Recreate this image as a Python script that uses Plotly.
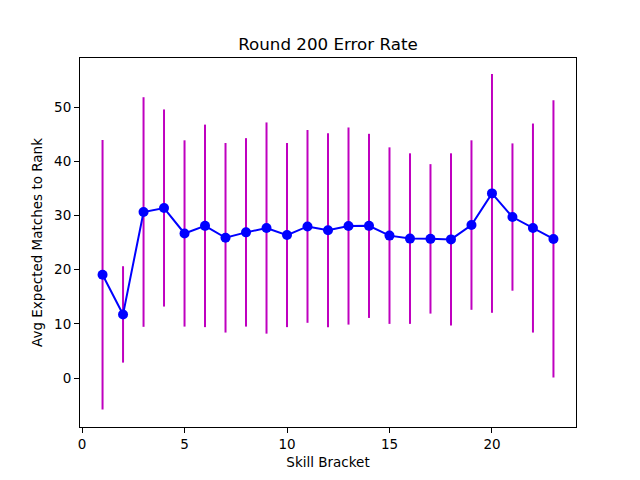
import plotly.graph_objects as go

brackets = list(range(1, 24))
avg_matches = [19.07, 11.75, 30.66, 31.4, 26.7, 28.1, 25.9, 26.9, 27.7, 26.4, 28.0, 27.3,
               28.07, 28.1, 26.3, 25.75, 25.7, 25.6, 28.25, 34.1, 29.73, 27.7, 25.68]
err = [24.9, 8.9, 21.2, 18.2, 17.2, 18.7, 17.5, 17.4, 19.5, 17.0, 17.8, 17.9,
       18.2, 17.0, 16.3, 15.75, 13.8, 15.9, 15.65, 22.05, 13.6, 19.3, 25.6]

font = "DejaVu Sans, Liberation Sans, sans-serif"

fig = go.Figure()
fig.add_trace(go.Scatter(
    x=brackets, y=avg_matches, mode="markers",
    marker=dict(size=1, opacity=0),
    error_y=dict(type="data", array=err, visible=True, color="#bf00bf", thickness=2, width=0),
    showlegend=False, hoverinfo="skip"))
fig.add_trace(go.Scatter(
    x=brackets, y=avg_matches, mode="lines+markers",
    line=dict(color="#0000ff", width=2),
    marker=dict(color="#0000ff", size=10),
    showlegend=False))

axis_common = dict(
    showgrid=False, zeroline=False, showline=True, linecolor="black", linewidth=1,
    mirror=True, ticks="outside", ticklen=5, tickwidth=1, tickcolor="black",
    tickfont=dict(family=font, size=13.5, color="black"),
)
fig.update_xaxes(range=[-0.1, 24.1], tickvals=[0, 5, 10, 15, 20],
                 title=dict(text="Skill Bracket", font=dict(family=font, size=13.5, color="black"), standoff=6),
                 **axis_common)
fig.update_yaxes(range=[-9.04, 59.1], tickvals=[0, 10, 20, 30, 40, 50],
                 title=dict(text="Avg Expected Matches to Rank", font=dict(family=font, size=13.5, color="black"), standoff=8),
                 **axis_common)
fig.update_layout(
    width=640, height=480,
    margin=dict(l=72, r=72, t=50, b=61),
    paper_bgcolor="white", plot_bgcolor="white",
    title=dict(text="Round 200 Error Rate", x=(328 - 8) / 640, xanchor="center", y=1 - 36/480, yanchor="middle",
               xref="paper", font=dict(family=font, size=16.7, color="black")),
)
fig.write_html("out.html")
